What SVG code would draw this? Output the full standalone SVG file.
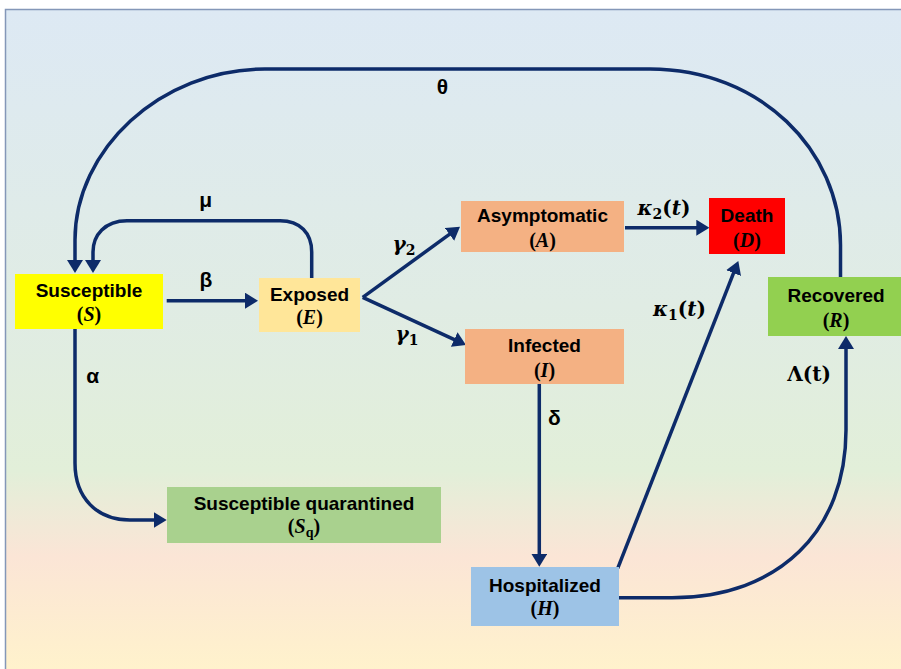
<svg xmlns="http://www.w3.org/2000/svg" width="901" height="669" viewBox="0 0 901 669">
<defs>
<linearGradient id="bg" x1="0" y1="9" x2="0" y2="669" gradientUnits="userSpaceOnUse">
<stop offset="0" stop-color="#dde9f4"/>
<stop offset="0.45" stop-color="#e0ece4"/>
<stop offset="0.7" stop-color="#e2efd9"/>
<stop offset="0.83" stop-color="#fbe5d6"/>
<stop offset="1" stop-color="#fff2cc"/>
</linearGradient>
<marker id="ah" viewBox="0 0 13 16" refX="2" refY="8" markerWidth="13" markerHeight="16" markerUnits="userSpaceOnUse" orient="auto">
<path d="M0,0 L13,8 L0,16 z" fill="#0d2b69"/>
</marker>
</defs>
<style>
.lbl{font-family:"Liberation Sans",Arial,sans-serif;font-weight:bold;font-size:19px;fill:#000;text-anchor:middle}
.var{font-family:"Liberation Serif","Times New Roman",serif;font-weight:bold;font-size:20px;fill:#000;text-anchor:middle}
.it{font-style:italic}
.gk{font-family:"Liberation Sans",Arial,sans-serif;font-weight:bold;font-size:21px;fill:#000;text-anchor:middle}
.mth{font-family:"DejaVu Serif","Liberation Serif",serif;font-weight:bold;font-size:20px;fill:#000;text-anchor:middle}
.sub{font-size:14px;font-style:normal}
.var .sub{font-size:14px}
.con path{fill:none;stroke:#0d2b69;stroke-width:3.5}
.arr{marker-end:url(#ah)}
</style>
<rect x="0" y="0" width="901" height="669" fill="#ffffff"/>
<rect x="5.5" y="9.5" width="900" height="665" fill="url(#bg)" stroke="#8497b8" stroke-width="1.5"/>

<g id="connectors" class="con">
<path id="theta" class="arr" d="M840.5,277 V245 C840.5,150 760,69 650,69 H265 C160,69 75,150 75,240 V262"/>
<path id="mu" class="arr" d="M311.7,278 V252 C311.7,233 300,220.7 280,220.7 H127 C105,220.7 93,235 93,252 V262"/>
<path id="beta" class="arr" d="M166.7,300.7 H247"/>
<path id="gamma2" class="arr" d="M362.7,297.3 L451.1,233.2"/>
<path id="gamma1" class="arr" d="M362.7,297.3 L456,340.4"/>
<path id="kappa2" class="arr" d="M625,227.7 H698.3"/>
<path id="kappa1" class="arr" d="M617.7,568.3 L734.3,271.2"/>
<path id="delta" class="arr" d="M539.3,384 V555.7"/>
<path id="alpha" class="arr" d="M75,329 V463 C75,498 97,520 130,520 H155.7"/>
<path id="lambda" class="arr" d="M619,597.7 H672 C780,597.7 846,530 846,430 V347"/>
</g>

<g id="edge-labels">
<text class="gk" x="442.5" y="94" font-size="24">θ</text>
<text class="gk" x="205.7" y="207">μ</text>
<text class="gk" x="206" y="287">β</text>
<text class="gk" x="92.7" y="383">α</text>
<text class="gk" x="554.3" y="425">δ</text>
<text class="mth" x="404" y="251"><tspan class="it">γ</tspan><tspan class="sub" dy="4">2</tspan></text>
<text class="mth" x="407" y="341"><tspan class="it">γ</tspan><tspan class="sub" dy="4">1</tspan></text>
<text class="mth" x="664" y="215"><tspan class="it">κ</tspan><tspan class="sub" dy="4">2</tspan><tspan dy="-4">(</tspan><tspan class="it">t</tspan>)</text>
<text class="mth" x="679.5" y="316"><tspan class="it">κ</tspan><tspan class="sub" dy="4">1</tspan><tspan dy="-4">(</tspan><tspan class="it">t</tspan>)</text>
<text class="mth" x="809" y="381">Λ(t)</text>
</g>

<g id="susceptible">
<rect x="15" y="274" width="148" height="55" fill="#ffff00"/>
<text class="lbl" x="89" y="297">Susceptible</text>
<text class="var" x="89" y="321">(<tspan class="it">S</tspan>)</text>
</g>
<g id="exposed">
<rect x="259" y="278" width="101" height="54" fill="#ffe699"/>
<text class="lbl" x="309.5" y="301">Exposed</text>
<text class="var" x="309.5" y="324">(<tspan class="it">E</tspan>)</text>
</g>
<g id="asymptomatic">
<rect x="461" y="201" width="163" height="51" fill="#f4b183"/>
<text class="lbl" x="542.5" y="221.7" font-size="18">Asymptomatic</text>
<text class="var" x="542.5" y="246.7">(<tspan class="it">A</tspan>)</text>
</g>
<g id="death">
<rect x="709" y="198" width="76" height="56" fill="#ff0000"/>
<text class="lbl" x="747" y="221.7">Death</text>
<text class="var" x="747" y="246.7">(<tspan class="it">D</tspan>)</text>
</g>
<g id="infected">
<rect x="465" y="329" width="159" height="55" fill="#f4b183"/>
<text class="lbl" x="544.5" y="352.3">Infected</text>
<text class="var" x="544.5" y="377">(<tspan class="it">I</tspan>)</text>
</g>
<g id="recovered">
<rect x="768" y="277" width="140" height="59" fill="#92d050"/>
<text class="lbl" x="836" y="301.7">Recovered</text>
<text class="var" x="836" y="326.7">(<tspan class="it">R</tspan>)</text>
</g>
<g id="susceptible-quarantined">
<rect x="167" y="487" width="274" height="56" fill="#a9d18e"/>
<text class="lbl" x="304" y="510">Susceptible quarantined</text>
<text class="var" x="304" y="533">(<tspan class="it">S</tspan><tspan class="it sub" dy="4">q</tspan><tspan dy="-4">)</tspan></text>
</g>
<g id="hospitalized">
<rect x="471" y="567" width="148" height="59" fill="#9dc3e6"/>
<text class="lbl" x="545" y="591.7">Hospitalized</text>
<text class="var" x="545" y="615">(<tspan class="it">H</tspan>)</text>
</g>
</svg>
